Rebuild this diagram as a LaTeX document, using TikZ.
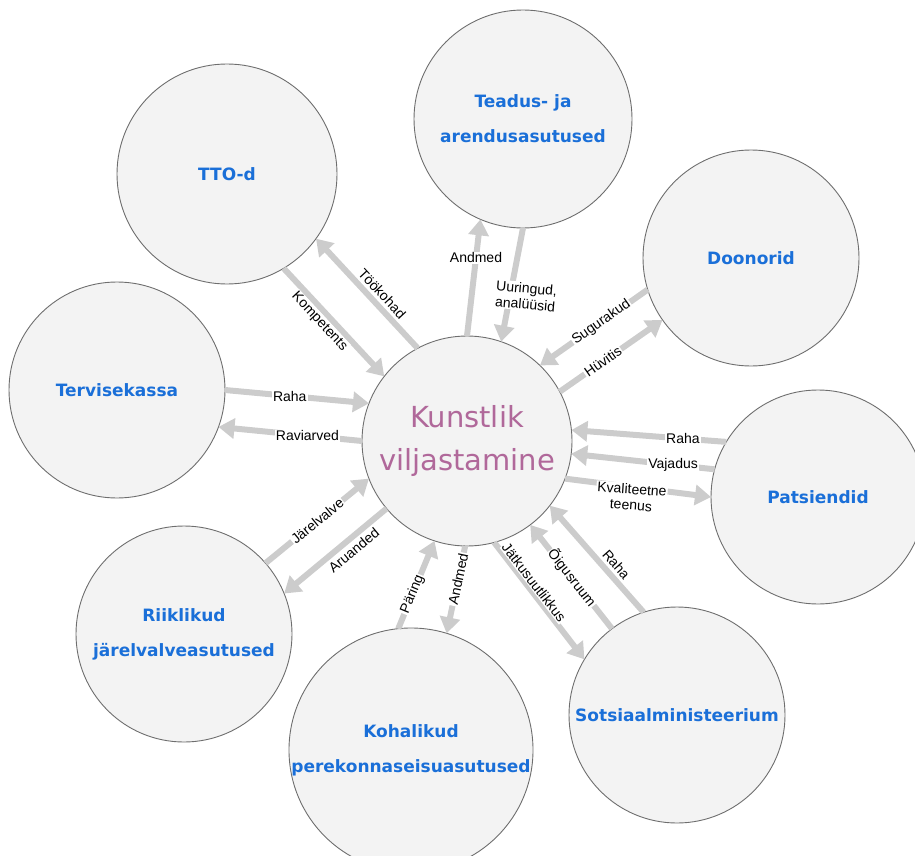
\documentclass[tikz,border=0pt]{standalone}
\usepackage{fontspec}
\setmainfont{DejaVu Sans}
\newfontfamily\labelfont{Liberation Sans}
\usetikzlibrary{arrows.meta}
\definecolor{NodeBlue}{HTML}{1A6FD8}
\definecolor{HubPurple}{HTML}{B0689A}
\definecolor{NodeFill}{HTML}{F3F3F3}
\definecolor{NodeLine}{HTML}{6E6E6E}
\definecolor{FlowGray}{HTML}{CCCCCC}
\tikzset{%
  CircleStyle/.style={circle,draw=NodeLine,fill=NodeFill,line width=0.9pt,inner sep=0pt,
    outer sep=0pt,align=center,text=NodeBlue,font=\fontsize{17}{35}\selectfont\bfseries},
  HubStyle/.style={CircleStyle,text=HubPurple,font=\fontsize{29}{43}\selectfont},
  FlowStyle/.style={draw=FlowGray,line width=6pt,-{Triangle[length=16pt,width=20pt]}},
  FlowLabel/.style={fill=white,inner sep=1pt,text=black,align=center,
    font=\labelfont\fontsize{14}{16}\selectfont}
}

\begin{document}
\begin{tikzpicture}[x=1pt,y=-1pt]
  \useasboundingbox (0,0) rectangle (915,856);
  % circles
  \node[HubStyle,minimum size=210pt] (hub) at (467,441) {Kunstlik\\viljastamine};
  \node[CircleStyle,minimum size=220pt] (tto) at (227,174) {TTO-d};
  \node[CircleStyle,minimum size=218pt] (teadus) at (523,119) {Teadus- ja\\arendusasutused};
  \node[CircleStyle,minimum size=216pt] (doonor) at (751,258) {Doonorid};
  \node[CircleStyle,minimum size=216pt] (haige) at (117,390) {Tervisekassa};
  \node[CircleStyle,minimum size=214pt] (patsient) at (818,497) {Patsiendid};
  \node[CircleStyle,minimum size=216pt] (riik) at (184,634) {Riiklikud\\järelvalveasutused};
  \node[CircleStyle,minimum size=210pt] (kohalik) at (411,750) {Kohalikud\\perekonnaseisuasutused};
  \node[CircleStyle,minimum size=216pt] (sots) at (677,715) {Sotsiaalministeerium};
  % flows
  \draw[FlowStyle] (hub.118) -- (tto.-36) node[FlowLabel,pos=.43,sloped,above=2pt] {Töökohad};
  \draw[FlowStyle] (tto.-59) -- (hub.142) node[FlowLabel,pos=.43,sloped,below=0pt] {Kompetents};
  \draw[FlowStyle] (hub.90) -- (teadus.-113) node[FlowLabel,pos=.67] {Andmed};
  \draw[FlowStyle] (teadus.-90) -- (hub.71)
    node[FlowLabel,pos=.6,xshift=16pt,rotate=-5] {Uuringud,\\analüüsid};
  \draw[FlowStyle] (doonor.-163) -- (hub.46) node[FlowLabel,pos=.43,sloped] {Sugurakud};
  \draw[FlowStyle] (hub.28) -- (doonor.-145) node[FlowLabel,pos=.42,sloped] {Hüvitis};
  \draw[FlowStyle] (haige.0) -- (hub.159) node[FlowLabel,pos=.45] {Raha};
  \draw[FlowStyle] (hub.180) -- (haige.-20) node[FlowLabel,pos=.38] {Raviarved};
  \draw[FlowStyle] (patsient.149) -- (hub.6) node[FlowLabel,pos=.28] {Raha};
  \draw[FlowStyle] (patsient.165) -- (hub.-7.5) node[FlowLabel,pos=.29] {Vajadus};
  \draw[FlowStyle] (hub.-21) -- (patsient.180)
    node[FlowLabel,pos=.46,rotate=-4,yshift=-10pt] {Kvaliteetne\\teenus};
  \draw[FlowStyle] (riik.41) -- (hub.201) node[FlowLabel,pos=.5,sloped] {Järelvalve};
  \draw[FlowStyle] (hub.220) -- (riik.22) node[FlowLabel,pos=.39,sloped,below=2pt] {Aruanded};
  \draw[FlowStyle] (kohalik.96) -- (hub.252) node[FlowLabel,pos=.39,sloped] {Päring};
  \draw[FlowStyle] (hub.269) -- (kohalik.73) node[FlowLabel,pos=.38,sloped] {Andmed};
  \draw[FlowStyle] (hub.285) -- (sots.149) node[FlowLabel,pos=.38,sloped,above=-2pt] {Jätkusuutlikkus};
  \draw[FlowStyle] (sots.127) -- (hub.307) node[FlowLabel,pos=.49,sloped] {Õigusruum};
  \draw[FlowStyle] (sots.108) -- (hub.322) node[FlowLabel,pos=.38,sloped,above=2pt] {Raha};
\end{tikzpicture}
\end{document}
